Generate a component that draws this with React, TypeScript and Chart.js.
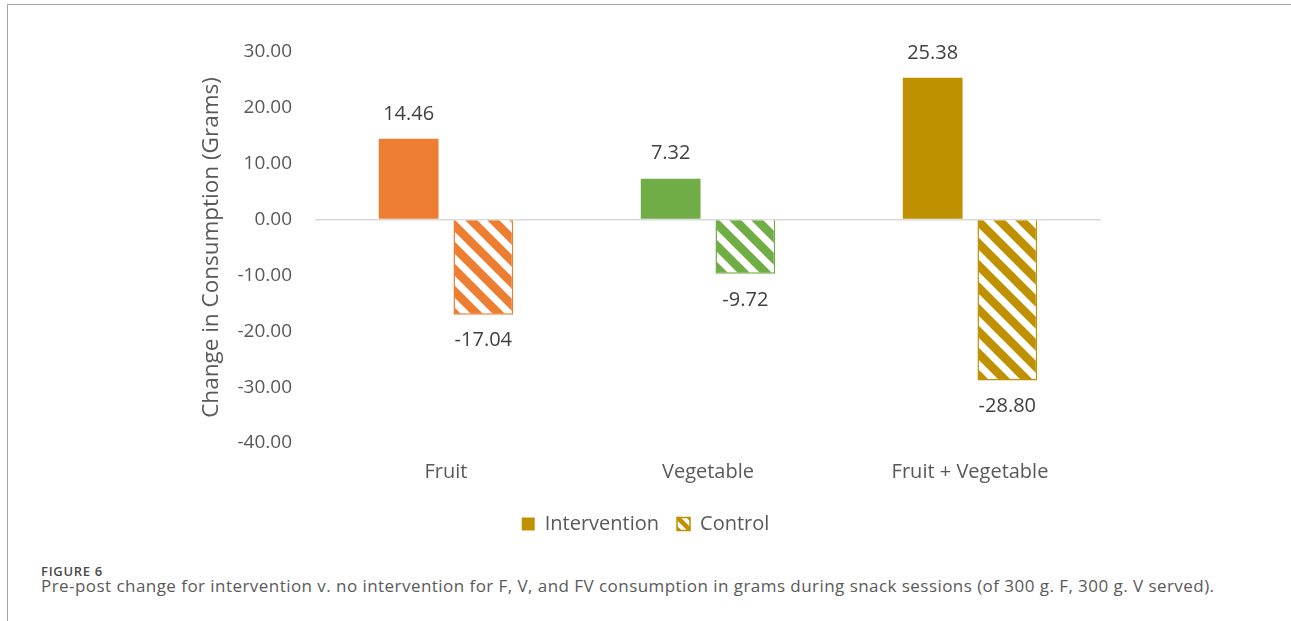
import React, { useEffect, useRef } from 'react';
import { Chart, registerables } from 'chart.js';

Chart.register(...registerables);

const categories = ['Fruit', 'Vegetable', 'Fruit + Vegetable'];
const seriesNames = ['Intervention', 'Control'];
const interventionValues = [14.46, 7.32, 25.38];
const controlValues = [-17.04, -9.72, -28.8];
const categoryColors = ['#ED7D31', '#70AD47', '#BF9000'];
const legendColor = '#BF9000';
const yTickValues = [30, 20, 10, 0, -10, -20, -30, -40];
const yAxisTitle = 'Change in Consumption (Grams)';
const figureLabel = 'FIGURE 6';
const captionText =
  'Pre-post change for intervention v. no intervention for F, V, and FV consumption in grams during snack sessions (of 300 g. F, 300 g. V served).';

const FONT = '"Open Sans", "Noto Sans", sans-serif';

function makeStripePattern(color: string, period = 22, stripe = 7): CanvasPattern | string {
  const c = document.createElement('canvas');
  c.width = period;
  c.height = period;
  const g = c.getContext('2d');
  if (!g) return color;
  g.fillStyle = color;
  g.fillRect(0, 0, period, period);
  g.strokeStyle = '#ffffff';
  g.lineWidth = stripe;
  g.beginPath();
  for (const k of [-1, 0, 1]) {
    g.moveTo(k * period - period, -period);
    g.lineTo(k * period + 2 * period, 2 * period);
  }
  g.stroke();
  return g.createPattern(c, 'repeat') || color;
}

const valueLabelPlugin = {
  id: 'valueLabels',
  afterDatasetsDraw(chart: any) {
    const ctx = chart.ctx as CanvasRenderingContext2D;
    ctx.save();
    ctx.font = `20px ${FONT}`;
    ctx.fillStyle = '#404040';
    ctx.textAlign = 'center';
    ctx.textBaseline = 'middle';
    chart.data.datasets.forEach((ds: any, i: number) => {
      const meta = chart.getDatasetMeta(i);
      meta.data.forEach((el: any, j: number) => {
        const v = ds.data[j] as number;
        const y = v >= 0 ? el.y - 25 : el.y + 26;
        ctx.fillText(v.toFixed(2), el.x, y);
      });
    });
    ctx.restore();
  },
};

export default function App() {
  const canvasRef = useRef<HTMLCanvasElement | null>(null);

  useEffect(() => {
    const canvas = canvasRef.current;
    if (!canvas) return;
    const controlPatterns = categoryColors.map((c) => makeStripePattern(c));
    const legendPattern = makeStripePattern(legendColor, 12, 4);

    const chart = new Chart(canvas, {
      type: 'bar',
      data: {
        labels: categories,
        datasets: [
          {
            label: seriesNames[0],
            data: interventionValues,
            backgroundColor: categoryColors,
            borderColor: categoryColors,
            borderWidth: 0,
            categoryPercentage: 0.57,
            barPercentage: 0.8,
          },
          {
            label: seriesNames[1],
            data: controlValues,
            backgroundColor: controlPatterns as any,
            borderColor: categoryColors,
            borderWidth: 1.5,
            categoryPercentage: 0.57,
            barPercentage: 0.8,
          },
        ],
      },
      options: {
        responsive: false,
        animation: false,
        devicePixelRatio: 1,
        layout: { padding: { left: 190, right: 190, top: 50, bottom: 8 } },
        scales: {
          x: {
            grid: { display: false },
            border: { display: false },
            ticks: {
              color: '#595959',
              font: { family: FONT, size: 20 },
              padding: 9,
            },
            afterFit(scale: any) {
              scale.height = 53;
            },
          },
          y: {
            min: -40,
            max: 30,
            afterBuildTicks(scale: any) {
              scale.ticks = yTickValues.map((v) => ({ value: v }));
            },
            afterFit(scale: any) {
              scale.width = 125;
            },
            grid: {
              drawTicks: false,
              color: (ctx: any) => (ctx.tick && ctx.tick.value === 0 ? '#d9d9d9' : 'rgba(0,0,0,0)'),
              lineWidth: 1.5,
            },
            border: { display: false },
            ticks: {
              color: '#595959',
              font: { family: FONT, size: 19 },
              padding: 23,
              callback: (v: any) => Number(v).toFixed(2),
            },
            title: {
              display: true,
              text: yAxisTitle,
              color: '#595959',
              font: { family: FONT, size: 22.5 },
              padding: { top: 8, bottom: 0 },
            },
          },
        },
        plugins: {
          legend: {
            position: 'bottom',
            labels: {
              color: '#595959',
              font: { family: FONT, size: 20 },
              boxWidth: 13,
              boxHeight: 13,
              padding: 18,
              generateLabels: () => [
                {
                  text: seriesNames[0],
                  fillStyle: legendColor,
                  strokeStyle: legendColor,
                  lineWidth: 0,
                  hidden: false,
                  datasetIndex: 0,
                  fontColor: '#595959',
                },
                {
                  text: seriesNames[1],
                  fillStyle: legendPattern as any,
                  strokeStyle: legendColor,
                  lineWidth: 1.5,
                  hidden: false,
                  datasetIndex: 1,
                  fontColor: '#595959',
                },
              ],
            },
          },
          tooltip: { enabled: false },
        },
      },
      plugins: [valueLabelPlugin],
    });
    return () => chart.destroy();
  }, []);

  return (
    <div style={{ position: 'absolute', left: 0, top: 0, width: 1291, height: 621, background: '#fff', overflow: 'hidden' }}>
      <div style={{ position: 'absolute', left: 7, top: 4, right: 0, height: 1, background: '#a6a6a6' }} />
      <div style={{ position: 'absolute', left: 7, top: 4, bottom: 0, width: 1, background: '#a6a6a6' }} />
      <canvas
        ref={canvasRef}
        width={1291}
        height={550}
        style={{ position: 'absolute', left: 0, top: 2, width: 1291, height: 550 }}
      />
      <div
        style={{
          position: 'absolute',
          left: 41,
          top: 563,
          fontFamily: FONT,
          fontSize: 13,
          fontWeight: 600,
          letterSpacing: 0.7,
          color: '#4a4a4a',
          lineHeight: '16px',
        }}
      >
        {figureLabel}
      </div>
      <div
        style={{
          position: 'absolute',
          left: 41,
          top: 574,
          fontFamily: FONT,
          fontSize: 17,
          letterSpacing: 0.45,
          color: '#5a5a5a',
          lineHeight: '24px',
          whiteSpace: 'nowrap',
        }}
      >
        {captionText}
      </div>
    </div>
  );
}
